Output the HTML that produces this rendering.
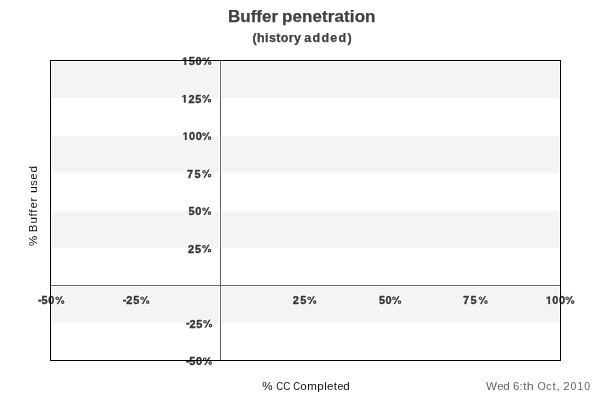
<!DOCTYPE html>
<html><head><meta charset="utf-8">
<style>
html,body{margin:0;padding:0;background:#fff;width:600px;height:400px;overflow:hidden}
svg{display:block;will-change:transform}
text{font-family:"Liberation Sans",sans-serif}
.o{fill:none;stroke:none}
</style></head>
<body>
<svg width="600" height="400" viewBox="0 0 600 400">
<rect x="0" y="0" width="600" height="400" fill="#fff"/>
<g fill="#f4f4f4" shape-rendering="crispEdges"><rect x="52" y="62" width="167" height="36"/><rect x="222" y="62" width="337" height="36"/><rect x="52" y="136" width="167" height="37"/><rect x="222" y="136" width="337" height="37"/><rect x="52" y="211" width="167" height="37"/><rect x="222" y="211" width="337" height="37"/><rect x="52" y="287" width="167" height="36"/><rect x="222" y="287" width="337" height="36"/></g>
<g shape-rendering="crispEdges" fill="#666">
<rect x="220" y="61" width="1" height="299"/>
<rect x="51" y="285" width="509" height="1"/>
</g>
<g font-weight="bold" font-size="17" fill="#fff" stroke="#fff" stroke-width="2.2" stroke-linejoin="round"><text x="228" y="22" textLength="50" lengthAdjust="spacing">Buffer</text><text x="282" y="22" textLength="93.5" lengthAdjust="spacing">penetration</text></g>
<g font-weight="bold" font-size="17" fill="#404040" stroke="#404040" stroke-width="0.25"><text x="228" y="22" textLength="50" lengthAdjust="spacing">Buffer</text><text x="282" y="22" textLength="93.5" lengthAdjust="spacing">penetration</text></g>
<g font-weight="bold" font-size="12.5" fill="#fff" stroke="#fff" stroke-width="2.2" stroke-linejoin="round"><text x="252.5" y="42" textLength="48.5" lengthAdjust="spacing">(history</text><text x="304.2" y="42" textLength="47.5" lengthAdjust="spacing">added)</text></g>
<g font-weight="bold" font-size="12.5" fill="#404040" stroke="#404040" stroke-width="0.25"><text x="252.5" y="42" textLength="48.5" lengthAdjust="spacing">(history</text><text x="304.2" y="42" textLength="47.5" lengthAdjust="spacing">added)</text></g>
<g font-weight="bold" font-size="11" fill="#fff" stroke="#fff" stroke-width="2.2" stroke-linejoin="round"><text x="182" y="65" textLength="30" lengthAdjust="spacing"><tspan class="o">1</tspan>50<tspan class="o">%</tspan></text><text x="181.5" y="102.5" textLength="30.5" lengthAdjust="spacing"><tspan class="o">1</tspan>25<tspan class="o">%</tspan></text><text x="182.5" y="140" textLength="29.5" lengthAdjust="spacing"><tspan class="o">1</tspan>00<tspan class="o">%</tspan></text><text x="187" y="177.5" textLength="25" lengthAdjust="spacing">75<tspan class="o">%</tspan></text><text x="188.5" y="215" textLength="23.5" lengthAdjust="spacing">50<tspan class="o">%</tspan></text><text x="188" y="252.5" textLength="24" lengthAdjust="spacing">25<tspan class="o">%</tspan></text><text x="186" y="327.5" textLength="27" lengthAdjust="spacing"><tspan dy="-1.2">-</tspan><tspan dx="-1" dy="1.2">25<tspan class="o">%</tspan></tspan></text><text x="186" y="365" textLength="26.5" lengthAdjust="spacing"><tspan dy="-1.2">-</tspan><tspan dx="-1" dy="1.2">50<tspan class="o">%</tspan></tspan></text><path d="M184.567,65.000 L184.567,58.716 L182.752,59.849 L182.752,58.662 L184.648,57.432 L186.077,57.432 L186.077,65.000Z"/><path d="M184.067,102.500 L184.067,96.216 L182.252,97.349 L182.252,96.162 L184.148,94.932 L185.577,94.932 L185.577,102.500Z"/><path d="M185.067,140.000 L185.067,133.716 L183.252,134.849 L183.252,133.662 L185.148,132.432 L186.577,132.432 L186.577,140.000Z"/><ellipse cx="204.15" cy="59.20" rx="1.30" ry="1.25" fill="none" stroke-width="3.35"/><ellipse cx="209.72" cy="63.15" rx="1.20" ry="1.25" fill="none" stroke-width="3.35"/><path d="M208.28,57.25 L209.58,57.25 L205.14,65.05 L203.84,65.05Z"/><ellipse cx="203.95" cy="96.70" rx="1.30" ry="1.25" fill="none" stroke-width="3.35"/><ellipse cx="209.52" cy="100.65" rx="1.20" ry="1.25" fill="none" stroke-width="3.35"/><path d="M208.08,94.75 L209.38,94.75 L204.94,102.55 L203.64,102.55Z"/><ellipse cx="203.95" cy="134.20" rx="1.30" ry="1.25" fill="none" stroke-width="3.35"/><ellipse cx="209.52" cy="138.15" rx="1.20" ry="1.25" fill="none" stroke-width="3.35"/><path d="M208.08,132.25 L209.38,132.25 L204.94,140.05 L203.64,140.05Z"/><ellipse cx="203.95" cy="171.70" rx="1.30" ry="1.25" fill="none" stroke-width="3.35"/><ellipse cx="209.52" cy="175.65" rx="1.20" ry="1.25" fill="none" stroke-width="3.35"/><path d="M208.08,169.75 L209.38,169.75 L204.94,177.55 L203.64,177.55Z"/><ellipse cx="203.95" cy="209.20" rx="1.30" ry="1.25" fill="none" stroke-width="3.35"/><ellipse cx="209.52" cy="213.15" rx="1.20" ry="1.25" fill="none" stroke-width="3.35"/><path d="M208.08,207.25 L209.38,207.25 L204.94,215.05 L203.64,215.05Z"/><ellipse cx="203.95" cy="246.70" rx="1.30" ry="1.25" fill="none" stroke-width="3.35"/><ellipse cx="209.52" cy="250.65" rx="1.20" ry="1.25" fill="none" stroke-width="3.35"/><path d="M208.08,244.75 L209.38,244.75 L204.94,252.55 L203.64,252.55Z"/><ellipse cx="204.95" cy="321.70" rx="1.30" ry="1.25" fill="none" stroke-width="3.35"/><ellipse cx="210.52" cy="325.65" rx="1.20" ry="1.25" fill="none" stroke-width="3.35"/><path d="M209.08,319.75 L210.38,319.75 L205.94,327.55 L204.64,327.55Z"/><ellipse cx="204.65" cy="359.20" rx="1.30" ry="1.25" fill="none" stroke-width="3.35"/><ellipse cx="210.22" cy="363.15" rx="1.20" ry="1.25" fill="none" stroke-width="3.35"/><path d="M208.78,357.25 L210.08,357.25 L205.64,365.05 L204.34,365.05Z"/></g>
<g font-weight="bold" font-size="11" fill="#333" stroke="#333" stroke-width="0.35"><text x="182" y="65" textLength="30" lengthAdjust="spacing"><tspan class="o">1</tspan>50<tspan class="o">%</tspan></text><text x="181.5" y="102.5" textLength="30.5" lengthAdjust="spacing"><tspan class="o">1</tspan>25<tspan class="o">%</tspan></text><text x="182.5" y="140" textLength="29.5" lengthAdjust="spacing"><tspan class="o">1</tspan>00<tspan class="o">%</tspan></text><text x="187" y="177.5" textLength="25" lengthAdjust="spacing">75<tspan class="o">%</tspan></text><text x="188.5" y="215" textLength="23.5" lengthAdjust="spacing">50<tspan class="o">%</tspan></text><text x="188" y="252.5" textLength="24" lengthAdjust="spacing">25<tspan class="o">%</tspan></text><text x="186" y="327.5" textLength="27" lengthAdjust="spacing"><tspan dy="-1.2">-</tspan><tspan dx="-1" dy="1.2">25<tspan class="o">%</tspan></tspan></text><text x="186" y="365" textLength="26.5" lengthAdjust="spacing"><tspan dy="-1.2">-</tspan><tspan dx="-1" dy="1.2">50<tspan class="o">%</tspan></tspan></text><path d="M184.567,65.000 L184.567,58.716 L182.752,59.849 L182.752,58.662 L184.648,57.432 L186.077,57.432 L186.077,65.000Z"/><path d="M184.067,102.500 L184.067,96.216 L182.252,97.349 L182.252,96.162 L184.148,94.932 L185.577,94.932 L185.577,102.500Z"/><path d="M185.067,140.000 L185.067,133.716 L183.252,134.849 L183.252,133.662 L185.148,132.432 L186.577,132.432 L186.577,140.000Z"/><ellipse cx="204.15" cy="59.20" rx="1.30" ry="1.25" fill="none" stroke-width="1.15"/><ellipse cx="209.72" cy="63.15" rx="1.20" ry="1.25" fill="none" stroke-width="1.15"/><path d="M208.28,57.25 L209.58,57.25 L205.14,65.05 L203.84,65.05Z"/><ellipse cx="203.95" cy="96.70" rx="1.30" ry="1.25" fill="none" stroke-width="1.15"/><ellipse cx="209.52" cy="100.65" rx="1.20" ry="1.25" fill="none" stroke-width="1.15"/><path d="M208.08,94.75 L209.38,94.75 L204.94,102.55 L203.64,102.55Z"/><ellipse cx="203.95" cy="134.20" rx="1.30" ry="1.25" fill="none" stroke-width="1.15"/><ellipse cx="209.52" cy="138.15" rx="1.20" ry="1.25" fill="none" stroke-width="1.15"/><path d="M208.08,132.25 L209.38,132.25 L204.94,140.05 L203.64,140.05Z"/><ellipse cx="203.95" cy="171.70" rx="1.30" ry="1.25" fill="none" stroke-width="1.15"/><ellipse cx="209.52" cy="175.65" rx="1.20" ry="1.25" fill="none" stroke-width="1.15"/><path d="M208.08,169.75 L209.38,169.75 L204.94,177.55 L203.64,177.55Z"/><ellipse cx="203.95" cy="209.20" rx="1.30" ry="1.25" fill="none" stroke-width="1.15"/><ellipse cx="209.52" cy="213.15" rx="1.20" ry="1.25" fill="none" stroke-width="1.15"/><path d="M208.08,207.25 L209.38,207.25 L204.94,215.05 L203.64,215.05Z"/><ellipse cx="203.95" cy="246.70" rx="1.30" ry="1.25" fill="none" stroke-width="1.15"/><ellipse cx="209.52" cy="250.65" rx="1.20" ry="1.25" fill="none" stroke-width="1.15"/><path d="M208.08,244.75 L209.38,244.75 L204.94,252.55 L203.64,252.55Z"/><ellipse cx="204.95" cy="321.70" rx="1.30" ry="1.25" fill="none" stroke-width="1.15"/><ellipse cx="210.52" cy="325.65" rx="1.20" ry="1.25" fill="none" stroke-width="1.15"/><path d="M209.08,319.75 L210.38,319.75 L205.94,327.55 L204.64,327.55Z"/><ellipse cx="204.65" cy="359.20" rx="1.30" ry="1.25" fill="none" stroke-width="1.15"/><ellipse cx="210.22" cy="363.15" rx="1.20" ry="1.25" fill="none" stroke-width="1.15"/><path d="M208.78,357.25 L210.08,357.25 L205.64,365.05 L204.34,365.05Z"/></g>
<g font-weight="bold" font-size="11" fill="#fff" stroke="#fff" stroke-width="2.2" stroke-linejoin="round"><text x="38" y="304" textLength="27" lengthAdjust="spacing"><tspan dy="-1.2">-</tspan><tspan dx="-1" dy="1.2">50<tspan class="o">%</tspan></tspan></text><text x="122.8" y="304" textLength="27.3" lengthAdjust="spacing"><tspan dy="-1.2">-</tspan><tspan dx="-1" dy="1.2">25<tspan class="o">%</tspan></tspan></text><text x="292.8" y="304" textLength="24.5" lengthAdjust="spacing">25<tspan class="o">%</tspan></text><text x="379" y="304" textLength="23" lengthAdjust="spacing">50<tspan class="o">%</tspan></text><text x="463" y="304" textLength="25" lengthAdjust="spacing">75<tspan class="o">%</tspan></text><text x="545.8" y="304" textLength="29.5" lengthAdjust="spacing"><tspan class="o">1</tspan>00<tspan class="o">%</tspan></text><path d="M548.367,304.000 L548.367,297.716 L546.552,298.849 L546.552,297.662 L548.448,296.432 L549.877,296.432 L549.877,304.000Z"/><ellipse cx="57.15" cy="298.20" rx="1.30" ry="1.25" fill="none" stroke-width="3.35"/><ellipse cx="62.72" cy="302.15" rx="1.20" ry="1.25" fill="none" stroke-width="3.35"/><path d="M61.28,296.25 L62.58,296.25 L58.14,304.05 L56.84,304.05Z"/><ellipse cx="142.15" cy="298.20" rx="1.30" ry="1.25" fill="none" stroke-width="3.35"/><ellipse cx="147.72" cy="302.15" rx="1.20" ry="1.25" fill="none" stroke-width="3.35"/><path d="M146.28,296.25 L147.58,296.25 L143.14,304.05 L141.84,304.05Z"/><ellipse cx="309.15" cy="298.20" rx="1.30" ry="1.25" fill="none" stroke-width="3.35"/><ellipse cx="314.72" cy="302.15" rx="1.20" ry="1.25" fill="none" stroke-width="3.35"/><path d="M313.28,296.25 L314.58,296.25 L310.14,304.05 L308.84,304.05Z"/><ellipse cx="393.95" cy="298.20" rx="1.30" ry="1.25" fill="none" stroke-width="3.35"/><ellipse cx="399.52" cy="302.15" rx="1.20" ry="1.25" fill="none" stroke-width="3.35"/><path d="M398.08,296.25 L399.38,296.25 L394.94,304.05 L393.64,304.05Z"/><ellipse cx="480.45" cy="298.20" rx="1.30" ry="1.25" fill="none" stroke-width="3.35"/><ellipse cx="486.02" cy="302.15" rx="1.20" ry="1.25" fill="none" stroke-width="3.35"/><path d="M484.58,296.25 L485.88,296.25 L481.44,304.05 L480.14,304.05Z"/><ellipse cx="567.15" cy="298.20" rx="1.30" ry="1.25" fill="none" stroke-width="3.35"/><ellipse cx="572.72" cy="302.15" rx="1.20" ry="1.25" fill="none" stroke-width="3.35"/><path d="M571.28,296.25 L572.58,296.25 L568.14,304.05 L566.84,304.05Z"/></g>
<g font-weight="bold" font-size="11" fill="#333" stroke="#333" stroke-width="0.35"><text x="38" y="304" textLength="27" lengthAdjust="spacing"><tspan dy="-1.2">-</tspan><tspan dx="-1" dy="1.2">50<tspan class="o">%</tspan></tspan></text><text x="122.8" y="304" textLength="27.3" lengthAdjust="spacing"><tspan dy="-1.2">-</tspan><tspan dx="-1" dy="1.2">25<tspan class="o">%</tspan></tspan></text><text x="292.8" y="304" textLength="24.5" lengthAdjust="spacing">25<tspan class="o">%</tspan></text><text x="379" y="304" textLength="23" lengthAdjust="spacing">50<tspan class="o">%</tspan></text><text x="463" y="304" textLength="25" lengthAdjust="spacing">75<tspan class="o">%</tspan></text><text x="545.8" y="304" textLength="29.5" lengthAdjust="spacing"><tspan class="o">1</tspan>00<tspan class="o">%</tspan></text><path d="M548.367,304.000 L548.367,297.716 L546.552,298.849 L546.552,297.662 L548.448,296.432 L549.877,296.432 L549.877,304.000Z"/><ellipse cx="57.15" cy="298.20" rx="1.30" ry="1.25" fill="none" stroke-width="1.15"/><ellipse cx="62.72" cy="302.15" rx="1.20" ry="1.25" fill="none" stroke-width="1.15"/><path d="M61.28,296.25 L62.58,296.25 L58.14,304.05 L56.84,304.05Z"/><ellipse cx="142.15" cy="298.20" rx="1.30" ry="1.25" fill="none" stroke-width="1.15"/><ellipse cx="147.72" cy="302.15" rx="1.20" ry="1.25" fill="none" stroke-width="1.15"/><path d="M146.28,296.25 L147.58,296.25 L143.14,304.05 L141.84,304.05Z"/><ellipse cx="309.15" cy="298.20" rx="1.30" ry="1.25" fill="none" stroke-width="1.15"/><ellipse cx="314.72" cy="302.15" rx="1.20" ry="1.25" fill="none" stroke-width="1.15"/><path d="M313.28,296.25 L314.58,296.25 L310.14,304.05 L308.84,304.05Z"/><ellipse cx="393.95" cy="298.20" rx="1.30" ry="1.25" fill="none" stroke-width="1.15"/><ellipse cx="399.52" cy="302.15" rx="1.20" ry="1.25" fill="none" stroke-width="1.15"/><path d="M398.08,296.25 L399.38,296.25 L394.94,304.05 L393.64,304.05Z"/><ellipse cx="480.45" cy="298.20" rx="1.30" ry="1.25" fill="none" stroke-width="1.15"/><ellipse cx="486.02" cy="302.15" rx="1.20" ry="1.25" fill="none" stroke-width="1.15"/><path d="M484.58,296.25 L485.88,296.25 L481.44,304.05 L480.14,304.05Z"/><ellipse cx="567.15" cy="298.20" rx="1.30" ry="1.25" fill="none" stroke-width="1.15"/><ellipse cx="572.72" cy="302.15" rx="1.20" ry="1.25" fill="none" stroke-width="1.15"/><path d="M571.28,296.25 L572.58,296.25 L568.14,304.05 L566.84,304.05Z"/></g>
<g shape-rendering="crispEdges" fill="#000">
<rect x="50" y="60" width="511" height="1"/>
<rect x="50" y="360" width="511" height="1"/>
<rect x="50" y="60" width="1" height="301"/>
<rect x="560" y="60" width="1" height="301"/>
</g>
<g font-size="11.6" fill="#111" transform="translate(37.4,250) rotate(-90)"><text x="3.94" y="0">%</text><text x="17.86" y="0">B</text><text x="26.41" y="0">u</text><text x="33.42" y="0">f</text><text x="37.35" y="0">f</text><text x="41.54" y="0">e</text><text x="48.53" y="0">r</text><text x="56.95" y="0" textLength="6.87" lengthAdjust="spacingAndGlyphs">u</text><text x="64.20" y="0" textLength="5.45" lengthAdjust="spacingAndGlyphs">s</text><text x="70.55" y="0" textLength="5.93" lengthAdjust="spacingAndGlyphs">e</text><text x="77.53" y="0">d</text></g>
<g font-size="11.6" fill="#111"><text x="262.22" y="390">%</text><text x="276.27" y="390" textLength="6.84" lengthAdjust="spacingAndGlyphs">C</text><text x="283.25" y="390" textLength="7.13" lengthAdjust="spacingAndGlyphs">C</text><text x="293.27" y="390" textLength="6.84" lengthAdjust="spacingAndGlyphs">C</text><text x="300.30" y="390">o</text><text x="307.24" y="390">m</text><text x="317.24" y="390">p</text><text x="324.33" y="390">l</text><text x="326.99" y="390">e</text><text x="333.72" y="390">t</text><text x="337.45" y="390" textLength="5.93" lengthAdjust="spacingAndGlyphs">e</text><text x="343.15" y="390">d</text></g>
<g font-size="11.6" fill="#666"><text x="486.02" y="390">W</text><text x="497.14" y="390">e</text><text x="503.25" y="390">d</text><text x="513.08" y="390">6</text><text x="519.54" y="390">:</text><text x="523.19" y="390">t</text><text x="526.83" y="390" textLength="6.99" lengthAdjust="spacingAndGlyphs">h</text><text x="537.49" y="390" textLength="8.32" lengthAdjust="spacingAndGlyphs">O</text><text x="546.25" y="390" textLength="5.33" lengthAdjust="spacingAndGlyphs">c</text><text x="552.59" y="390">t</text><text x="556.54" y="390">,</text><text x="563.27" y="390">2</text><text x="570.59" y="390" textLength="5.82" lengthAdjust="spacingAndGlyphs">0</text><text x="577.52" y="390" textLength="5.68" lengthAdjust="spacingAndGlyphs">1</text><text x="584.29" y="390" textLength="5.82" lengthAdjust="spacingAndGlyphs">0</text></g>
</svg>
</body></html>
